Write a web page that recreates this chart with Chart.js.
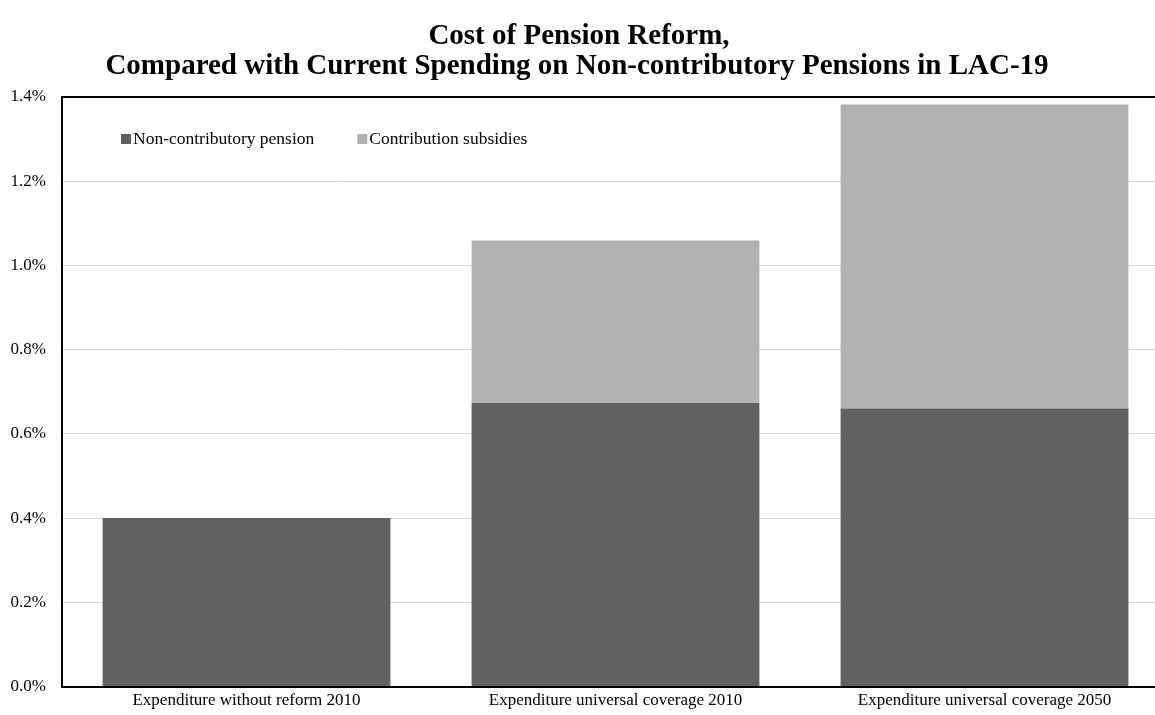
<!DOCTYPE html>
<html>
<head>
<meta charset="utf-8">
<script src="https://cdn.jsdelivr.net/npm/chart.js@4/dist/chart.umd.min.js"></script>
<style>
html,body{margin:0;padding:0;background:#fff;overflow:hidden;}
canvas{display:block;}
</style>
</head>
<body>
<canvas id="c" width="1169" height="715"></canvas>
<script>
const categories = ["Expenditure without reform 2010", "Expenditure universal coverage 2010", "Expenditure universal coverage 2050"];
const nonContributory = [0.40, 0.673, 0.66];
const contributionSubsidies = [0, 0.386, 0.722];
const seriesNames = ["Non-contributory pension", "Contribution subsidies"];
const titleLines = ["Cost of Pension Reform,", "Compared with Current Spending on Non-contributory Pensions in LAC-19"];

const FONT = "'Liberation Serif', 'Times New Roman', serif";

const titlePlugin = {
  id: 'titleAt',
  afterDraw(chart) {
    const ctx = chart.ctx;
    ctx.save();
    ctx.fillStyle = '#000';
    ctx.font = "bold 29px " + FONT;
    ctx.textAlign = 'center';
    ctx.textBaseline = 'alphabetic';
    ctx.fillText(titleLines[0], 579, 44);
    ctx.fillText(titleLines[1], 577, 74);
    ctx.restore();
  }
};

const legendPlugin = {
  id: 'legendInside',
  afterDraw(chart) {
    const ctx = chart.ctx;
    ctx.save();
    ctx.font = "17.5px " + FONT;
    ctx.textBaseline = 'middle';
    ctx.textAlign = 'left';
    let x = 121;
    const y = 139;
    chart.data.datasets.forEach(ds => {
      ctx.fillStyle = ds.backgroundColor;
      ctx.fillRect(x, y - 5, 10, 10);
      ctx.fillStyle = '#000';
      ctx.fillText(ds.label, x + 12, y);
      x += 12 + ctx.measureText(ds.label).width + 43;
    });
    ctx.restore();
  }
};

new Chart(document.getElementById('c'), {
  type: 'bar',
  data: {
    labels: categories,
    datasets: [
      { label: seriesNames[0], data: nonContributory, backgroundColor: '#616161', borderWidth: 0 },
      { label: seriesNames[1], data: contributionSubsidies, backgroundColor: '#b2b2b2', borderWidth: 0 }
    ]
  },
  options: {
    responsive: false,
    animation: false,
    layout: { padding: { top: 97, right: 0, left: 0, bottom: 0 } },
    plugins: {
      legend: { display: false },
      title: { display: false },
      tooltip: { enabled: false }
    },
    datasets: { bar: { barPercentage: 0.78, categoryPercentage: 1.0 } },
    scales: {
      x: {
        stacked: true,
        grid: { display: false, drawTicks: false },
        border: { display: true, color: '#000', width: 2 },
        ticks: { color: '#000', font: { family: FONT, size: 17 }, padding: 4, maxRotation: 0 },
        afterFit(scale) { scale.height = 28.5; }
      },
      y: {
        stacked: true,
        min: 0,
        max: 1.4,
        grid: {
          drawTicks: false,
          color: (c) => (c.tick && Math.abs(c.tick.value - 1.4) < 1e-6) ? '#000' : '#d4d4d4',
          lineWidth: (c) => (c.tick && Math.abs(c.tick.value - 1.4) < 1e-6) ? 2 : 1
        },
        border: { display: true, color: '#000', width: 2 },
        ticks: {
          stepSize: 0.2,
          color: '#000',
          font: { family: FONT, size: 17 },
          padding: 16,
          callback: (v) => v.toFixed(1) + '%'
        },
        afterFit(scale) { scale.width = 62; }
      }
    }
  },
  plugins: [titlePlugin, legendPlugin]
});
</script>
</body>
</html>
